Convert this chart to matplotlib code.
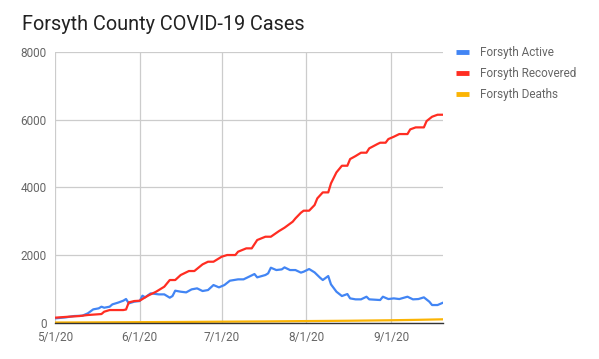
import pandas as pd
import matplotlib
matplotlib.use("Agg")
import matplotlib.pyplot as plt

plt.rcParams["font.family"] = ["Roboto", "DejaVu Sans"]

# ---- data (day offset from 5/1/20, value) ----
start = pd.Timestamp("2020-05-01")

active_days = [0, 4, 7, 10, 12, 14, 16, 17, 18, 20, 21, 23, 25, 26, 27, 29, 31,
               32, 33, 35, 38, 40, 42, 43, 44, 46, 48, 50, 52, 54, 56, 58, 60,
               62, 64, 67, 69, 71, 73, 74, 77, 78, 79, 81, 83, 84, 86, 88, 90,
               91, 93, 95, 97, 98, 100, 101, 103, 105, 107, 108, 110, 112, 114,
               115, 119, 120, 122, 124, 126, 129, 131, 133, 135, 137, 138, 140, 142]
active_vals = [128, 158, 197, 207, 276, 394, 424, 473, 443, 473, 542, 591, 650,
               700, 571, 621, 640, 798, 749, 867, 837, 837, 739, 788, 946, 916,
               896, 985, 1015, 936, 965, 1113, 1044, 1113, 1241, 1281, 1281, 1359,
               1438, 1340, 1409, 1458, 1625, 1556, 1576, 1635, 1556, 1556, 1480,
               1507, 1586, 1487, 1330, 1261, 1379, 1133, 916, 788, 847, 719, 690,
               690, 768, 690, 670, 768, 699, 719, 699, 768, 690, 699, 749, 621,
               522, 522, 591]

recovered_days = [0, 5, 9, 12, 17, 18, 20, 25, 26, 27, 29, 31, 34, 37, 40, 42,
                  44, 46, 49, 51, 54, 56, 58, 61, 63, 66, 67, 70, 72, 74, 77, 79,
                  82, 84, 87, 88, 90, 91, 93, 95, 96, 98, 100, 101, 103, 105, 107,
                  108, 110, 112, 114, 115, 118, 119, 121, 122, 124, 126, 129, 130,
                  132, 135, 136, 138, 140, 142]
recovered_vals = [148, 177, 197, 227, 256, 325, 374, 374, 390, 600, 640, 650, 798,
                  916, 1064, 1261, 1261, 1409, 1527, 1527, 1724, 1802, 1802, 1950,
                  2000, 2000, 2098, 2197, 2197, 2443, 2541, 2541, 2709, 2807, 2985,
                  3083, 3250, 3310, 3310, 3477, 3674, 3851, 3851, 4117, 4442, 4639,
                  4639, 4836, 4925, 5024, 5024, 5152, 5280, 5319, 5319, 5427, 5496,
                  5575, 5575, 5713, 5772, 5772, 5959, 6087, 6146, 6146]

deaths_days = [0, 15, 31, 46, 61, 77, 92, 108, 123, 133, 142]
deaths_vals = [5, 10, 16, 22, 30, 38, 48, 58, 72, 85, 100]

series = [
    ("Forsyth Active", active_days, active_vals, "#4285f4"),
    ("Forsyth Recovered", recovered_days, recovered_vals, "#ff2d22"),
    ("Forsyth Deaths", deaths_days, deaths_vals, "#fbb404"),
]

fig = plt.figure(figsize=(5.99, 3.59), dpi=100)
ax = fig.add_axes([55 / 599, 1 - 322.7 / 359, (443 - 55) / 599, (322.7 - 52) / 359])

for label, days, vals, color in series:
    dates = start + pd.to_timedelta(days, unit="D")
    ax.plot(dates, vals, color=color, lw=1.6, label=label, solid_joinstyle="round")

ax.set_xlim(start, start + pd.Timedelta(days=142))
ax.set_ylim(0, 8000)
ax.set_yticks([0, 2000, 4000, 6000, 8000])
ticks = pd.to_datetime(["2020-05-01", "2020-06-01", "2020-07-01", "2020-08-01", "2020-09-01"])
ax.set_xticks(ticks)
ax.set_xticklabels(["5/1/20", "6/1/20", "7/1/20", "8/1/20", "9/1/20"])

ax.grid(True, color="#cccccc", lw=0.9)
ax.set_axisbelow(True)
for s in ["top", "right", "left"]:
    ax.spines[s].set_visible(False)
ax.spines["bottom"].set_color("#333333")
ax.spines["bottom"].set_linewidth(1.0)
ax.spines["bottom"].set_zorder(5)
ax.tick_params(length=0, labelsize=8.5, colors="#666666")
ax.tick_params(axis="x", pad=6)
ax.tick_params(axis="y", pad=6)

fig.text(22 / 599, 1 - 24 / 359, "Forsyth County COVID-19 Cases", fontsize=14.3,
         color="#222222", va="center", ha="left")

leg = ax.legend(loc="upper left", bbox_to_anchor=(456 / 599, 1 - 46 / 359),
                bbox_transform=fig.transFigure, frameon=False, fontsize=8.5,
                handlelength=1.1, handletextpad=0.9, labelspacing=0.68,
                borderaxespad=0, borderpad=0)
for h in leg.get_lines():
    h.set_linewidth(3.5)
    h.set_solid_capstyle("butt")
for t in leg.get_texts():
    t.set_color("#666666")

fig.savefig("out.png", dpi=100)
